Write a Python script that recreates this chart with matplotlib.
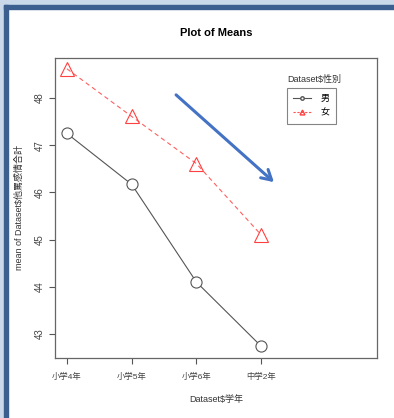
import matplotlib
matplotlib.use('Agg')
import matplotlib.pyplot as plt
from matplotlib.lines import Line2D
from matplotlib.patches import Rectangle, FancyArrowPatch

plt.rcParams['font.family'] = ['Liberation Sans', 'Noto Sans CJK JP', 'DejaVu Sans']

# data
grades = ['小学4年', '小学5年', '小学6年', '中学2年']
male = [47.25, 46.17, 44.10, 42.74]
female = [48.62, 47.61, 46.61, 45.10]
yticks = [43, 44, 45, 46, 47, 48]

W, H = 394, 418
fig = plt.figure(figsize=(W / 100, H / 100), dpi=100, facecolor='white')

# screenshot window frame
light = '#c9d9ea'
dark = '#3b5f8e'
fig.patches.append(Rectangle((0, 0), 4 / W, 1, transform=fig.transFigure, color=light, zorder=0))
fig.patches.append(Rectangle((0, 1 - 5 / H), 1, 5 / H, transform=fig.transFigure, color=light, zorder=0))
fig.patches.append(Rectangle((4 / W, 0), 4 / W, 1 - 5 / H, transform=fig.transFigure, color=dark, zorder=1))
fig.patches.append(Rectangle((4 / W, 1 - 9 / H), 1 - 4 / W, 4 / H, transform=fig.transFigure, color=dark, zorder=1))

ax = fig.add_axes([55 / W, (H - 358) / H, 322 / W, 300 / H])
x = list(range(1, len(grades) + 1))

ax.plot(x, male, color='#555555', linewidth=0.8, marker='o', markersize=8,
        markerfacecolor='white', markeredgecolor='#555555', markeredgewidth=0.8)
ax.plot(x, female, color='#ff6060', linewidth=0.8, linestyle=(0, (4, 3)), marker='^',
        markersize=10, markerfacecolor='none', markeredgecolor='#ff4040', markeredgewidth=0.8)

ax.set_xlim(0.815, 5.79)
ax.set_ylim(42.49, 48.85)
ax.set_xticks(x)
ax.set_xticklabels(grades, fontsize=6, color='#444444')
ax.set_yticks(yticks)
ax.set_yticklabels([str(v) for v in yticks], fontsize=7, rotation=90, va='center', color='#444444')
ax.tick_params(axis='both', direction='out', length=4.5, width=0.8, color='#555555')
ax.tick_params(axis='x', pad=6)
ax.tick_params(axis='y', pad=3)
for s in ax.spines.values():
    s.set_color('#666666')
    s.set_linewidth(0.9)

ax.set_xlabel('Dataset$学年', fontsize=6.5, color='#333333', labelpad=10)
ax.set_ylabel('mean of Dataset$他罵感情合計', fontsize=6.5, color='#333333', labelpad=8)
ax.set_title('Plot of Means', fontsize=8, fontweight='bold', pad=16)

# legend
handles = [
    Line2D([], [], color='#555555', linewidth=0.8, marker='o', markersize=2.5,
           markerfacecolor='white', markeredgecolor='#555555'),
    Line2D([], [], color='#ff5050', linewidth=0.8, linestyle=(0, (2, 1.5)), marker='^',
           markersize=3.5, markerfacecolor='none', markeredgecolor='#ff4040'),
]
leg = ax.legend(handles, ['男', '女'], loc='upper left', bbox_to_anchor=(0.72, 0.90),
                fontsize=6.5, frameon=True, fancybox=False, handlelength=2.0,
                borderpad=0.7, labelspacing=0.55, handletextpad=1.0, borderaxespad=0)
leg.get_frame().set_edgecolor('#666666')
leg.get_frame().set_linewidth(0.8)
ax.text(0.72, 0.927, 'Dataset$性別', transform=ax.transAxes, fontsize=6.5,
        color='#333333', ha='left', va='center')

# hand-drawn arrow annotation
arrow = FancyArrowPatch((174 / W, 1 - 93 / H), (276 / W, 1 - 184 / H),
                        transform=fig.transFigure, arrowstyle='->,head_length=7,head_width=4',
                        color='#4472c4', linewidth=2.2, zorder=5)
fig.patches.append(arrow)

fig.savefig('out.png', dpi=100, facecolor=fig.get_facecolor())
